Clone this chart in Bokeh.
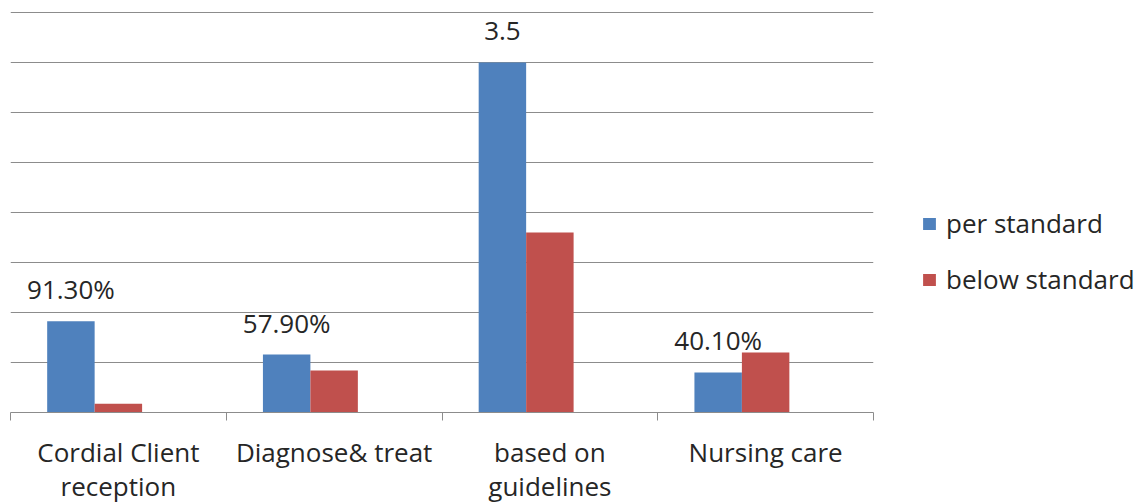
import numpy as np
from bokeh.plotting import figure
from bokeh.models import Range1d, FixedTicker, Legend, LegendItem, ColumnDataSource
from bokeh.core.properties import value
from bokeh.embed import file_html
from bokeh.resources import INLINE

# Service quality indicators, share meeting the standard vs. below it
categories = ["Cordial Client\nreception", "Diagnose& treat", "based on\nguidelines", "Nursing care"]
per_standard = [0.913, 0.579, 3.5, 0.401]
below_standard = [0.087, 0.421, 1.8, 0.599]
value_labels = ["91.30%", "57.90%", "3.5", "40.10%"]
series_names = ["per standard", "below standard"]
y_ticks = [0, 0.5, 1, 1.5, 2, 2.5, 3, 3.5, 4]

BLUE = "#4F81BD"
RED = "#C0504D"
GRID = "#8C8C8C"
TEXT = "#262626"
FONT = "Open Sans"

idx = np.arange(len(categories))
centers = idx + 0.5
bar_w = 0.22
x_blue = idx + 0.17 + bar_w / 2
x_red = x_blue + bar_w

src = ColumnDataSource(dict(
    x_blue=x_blue, x_red=x_red, per=per_standard, below=below_standard, lab=value_labels,
))

p = figure(
    frame_width=863, frame_height=401, width=None, height=None,
    x_range=Range1d(0, len(categories)), y_range=Range1d(0, 4.01),
    output_backend="svg", toolbar_location=None, y_axis_location=None,
    min_border_left=10, min_border_right=264, min_border_top=11, min_border_bottom=92,
    outline_line_color=None, background_fill_color="white", border_fill_color="white",
)

r_blue = p.vbar(x="x_blue", top="per", width=bar_w, bottom=0, source=src,
                fill_color=BLUE, line_color=None)
r_red = p.vbar(x="x_red", top="below", width=bar_w, bottom=0, source=src,
               fill_color=RED, line_color=None)

p.text(x="x_blue", y="per", text="lab", source=src, text_align="center",
       text_baseline="alphabetic", y_offset=-32, text_font=value(FONT),
       text_font_size="26px", text_color=TEXT)

# horizontal gridlines
p.xgrid.visible = False
p.ygrid.ticker = FixedTicker(ticks=y_ticks)
p.ygrid.grid_line_color = GRID
p.ygrid.grid_line_width = 1

# category axis: labels at slot centers, tick marks at slot boundaries
ax = p.xaxis[0]
ax.ticker = FixedTicker(ticks=list(centers), minor_ticks=list(range(len(categories) + 1)))
ax.major_label_overrides = {float(c): lab for c, lab in zip(centers, categories)}
ax.major_tick_line_color = None
ax.major_tick_out = 0
ax.major_tick_in = 0
ax.minor_tick_line_color = GRID
ax.minor_tick_out = 8
ax.minor_tick_in = 0
ax.axis_line_color = GRID
ax.major_label_text_font = FONT
ax.major_label_text_font_size = "26px"
ax.major_label_text_color = TEXT
ax.major_label_text_line_height = 0.96
ax.major_label_standoff = 13

legend = Legend(
    items=[LegendItem(label=series_names[0], renderers=[r_blue]),
           LegendItem(label=series_names[1], renderers=[r_red])],
    location=(48, 115), orientation="vertical",
    glyph_width=16, glyph_height=15, label_standoff=9, spacing=20,
    padding=0, margin=0, border_line_color=None, background_fill_alpha=0,
    label_text_font=FONT, label_text_font_size="26px", label_text_color=TEXT,
)
p.add_layout(legend, "right")

open("out.html", "w").write(file_html(p, INLINE))
